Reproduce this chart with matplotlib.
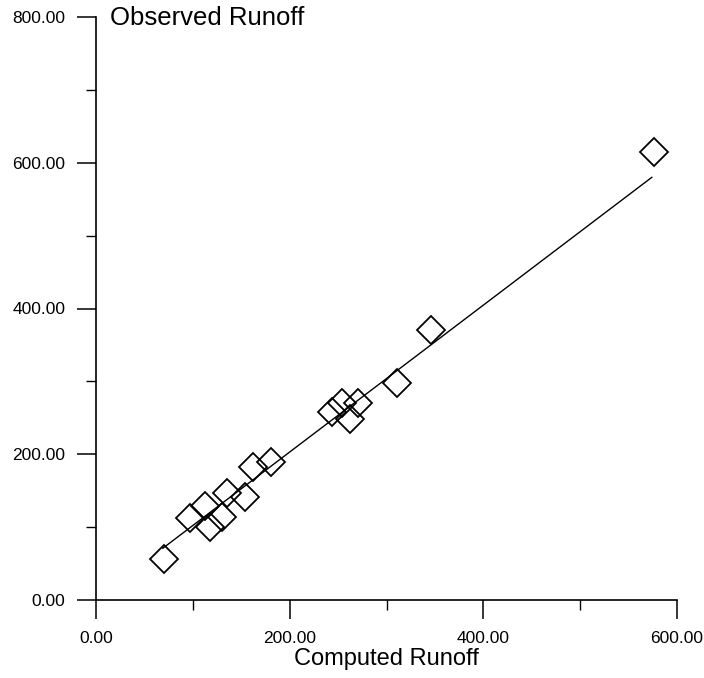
import numpy as np
import matplotlib.pyplot as plt
from matplotlib.ticker import MultipleLocator, FormatStrFormatter

plt.rcParams["font.family"] = ["Liberation Sans", "DejaVu Sans"]

# observed vs computed runoff
computed = [70, 97, 113, 118, 130, 135, 154, 162, 181,
            244, 254, 262, 271, 311, 346, 576]
observed = [56, 113, 129, 100, 114, 147, 141, 183, 190,
            258, 270, 249, 271, 298, 371, 615]

# fitted line end points
fit_x = [69, 574]
fit_y = [71, 580]


def main():
    fig = plt.figure(figsize=(7.04, 6.78), dpi=100)
    ax = fig.add_axes([96 / 704, 78 / 678, 581 / 704, 583 / 678])

    ax.plot(fit_x, fit_y, color="black", linewidth=1.0)
    ax.plot(computed, observed, linestyle="none", marker="D", markersize=14,
            markerfacecolor="none", markeredgecolor="black", markeredgewidth=1.3)

    ax.set_xlim(0, 600)
    ax.set_ylim(0, 800)
    ax.spines["top"].set_visible(False)
    ax.spines["right"].set_visible(False)
    for s in ("left", "bottom"):
        ax.spines[s].set_linewidth(1.2)

    ax.xaxis.set_major_locator(MultipleLocator(200))
    ax.xaxis.set_minor_locator(MultipleLocator(100))
    ax.yaxis.set_major_locator(MultipleLocator(200))
    ax.yaxis.set_minor_locator(MultipleLocator(100))
    ax.xaxis.set_major_formatter(FormatStrFormatter("%.2f"))
    ax.yaxis.set_major_formatter(FormatStrFormatter("%.2f"))

    ax.tick_params(which="major", direction="out", length=14, width=1.1,
                   labelsize=12.5, pad=8)
    ax.tick_params(which="minor", direction="out", length=7, width=1.0)

    ax.set_xlabel("Computed Runoff", fontsize=17, labelpad=2)
    fig.text(110 / 704, 1 - 18 / 678, "Observed Runoff", fontsize=18.5,
             ha="left", va="center")

    fig.savefig("out.png", dpi=100)
    plt.close(fig)


if __name__ == "__main__":
    main()
